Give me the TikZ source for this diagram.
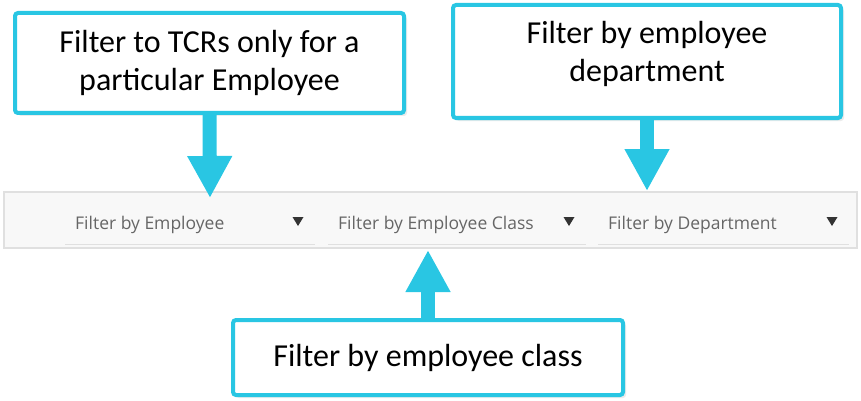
\documentclass[tikz,border=0pt]{standalone}
\usepackage{fontspec}
\setmainfont{Carlito}
\newfontfamily\uifont{Open Sans}
\usetikzlibrary{arrows.meta,shadows}
\definecolor{callout}{HTML}{29C6E3}
\definecolor{barfill}{HTML}{F8F8F8}
\definecolor{barline}{HTML}{E0E0E0}
\definecolor{uitext}{HTML}{666666}
\definecolor{uiarrow}{HTML}{333333}
\tikzset{
  callbox/.style={draw=callout, line width=4pt, rounded corners=3pt, fill=white,
    align=center, font=\fontsize{32}{38}\selectfont,
    drop shadow={shadow xshift=3pt, shadow yshift=-3pt, opacity=0.08, fill=black}},
  calltext/.style={align=center, font=\fontsize{32}{38}\selectfont},
  fatarrow/.style={draw=callout, line width=14pt, -{Triangle[width=42pt,length=42pt]}},
  ddtext/.style={anchor=base west, inner sep=0pt, text=uitext, font=\uifont\fontsize{17.5}{20}\selectfont},
}
\begin{document}
\begin{tikzpicture}[x=1pt, y=-1pt]
  \useasboundingbox (0,0) rectangle (861,401);
  % filter bar
  \node[draw=barline, fill=barfill, line width=2pt, minimum width=853pt,
        minimum height=56pt, inner sep=0pt] (bar) at (430.5,220) {};
  \foreach \a/\b/\lbl/\n in {65/315/Filter by Employee/emp,
      328/586/Filter by Employee Class/cls, 598/849/Filter by Department/dep}
  {
    \node[ddtext] (dd\n) at ({\a+10},229) {\lbl};
    \draw[barline, line width=1pt] (\a,244) -- (\b,244);
    \fill[uiarrow] ({\b-22.5},217) -- ({\b-11.5},217) -- ({\b-17},226) -- cycle;
  }
  % callouts
  \node[callbox, minimum width=389pt, minimum height=100pt] (tcr) at (209.5,63)
    {Filter to TCRs only for a\\particular Employee};
  \node[callbox, minimum width=388pt, minimum height=113pt] (dept) at (647,61.5) {};
  \node[calltext] (depttext) at (647,54) {Filter by employee\\department};
  \node[callbox, minimum width=390pt, minimum height=75pt] (clsbox) at (428,357.5)
    {Filter by employee class};
  % arrows
  \coordinate (tcrtip) at (210,198);
  \coordinate (depttip) at (647,191);
  \coordinate (clstip) at (428,250);
  \draw[fatarrow] (tcr.south) -- (tcrtip);
  \draw[fatarrow] (dept.south) -- (depttip);
  \draw[fatarrow] (clsbox.north) -- (clstip);
\end{tikzpicture}
\end{document}
